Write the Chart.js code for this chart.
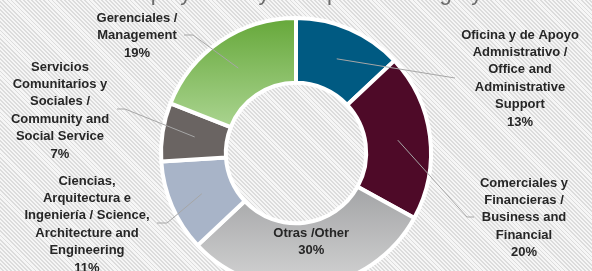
<!DOCTYPE html>
<html>
<head>
<meta charset="utf-8">
<script src="https://cdn.jsdelivr.net/npm/chart.js@4.4.1/dist/chart.umd.min.js"></script>
<style>
  html, body {
    margin: 0; padding: 0; width: 592px; height: 271px; overflow: hidden;
    background: repeating-linear-gradient(45deg, #f6f6f6 0px, #f6f6f6 1.6px, #dcdcdc 1.6px, #dcdcdc 2.9px);
  }
  #wrap { position: relative; width: 592px; height: 306px; }
</style>
</head>
<body>
<div id="wrap"><canvas id="myChart"></canvas></div>
<script>
  'use strict';

  // data
  const categoryLines = [
    ['Oficina y de Apoyo', 'Admnistrativo /', 'Office and', 'Administrative', 'Support'],
    ['Comerciales y', 'Financieras /', 'Business and', 'Financial'],
    ['Otras /Other'],
    ['Ciencias,', 'Arquitectura e', 'Ingeniería / Science,', 'Architecture and', 'Engineering'],
    ['Servicios', 'Comunitarios y', 'Sociales /', 'Community and', 'Social Service'],
    ['Gerenciales /', 'Management']
  ];
  const shares = [13, 20, 30, 11, 7, 19];
  const chartTitle = 'Employment by Occupation Category';

  // colours (gradient slices get a top/bottom pair)
  const sliceColors = ['#005a82', '#4e0a28', '#b4b5b7', '#a8b4c8', '#6a6462', '#86bd62'];
  const sliceGradients = [null, null, ['#a3a4a6', '#d4d4d4'], null, null, ['#66a83a', '#aad490']];

  // where the text blocks sit (x = centre, y = first line centre), leader elbow + end
  const labelLayout = [
    { x: 520, y: 35, lh: 17.4, elbow: [455, 78], end: [455, 78] },
    { x: 524, y: 183, lh: 17.4, elbow: [467, 217], end: [474, 217] },
    { inside: 0.3, dx: 4, lh: 16.5 },
    { x: 87, y: 181, lh: 17.4, elbow: [167, 223], end: [157, 223] },
    { x: 60, y: 67, lh: 17.4, elbow: [125, 109], end: [117, 109] },
    { x: 137, y: 18, lh: 17.5, elbow: [193, 35], end: [184, 35] }
  ];

  function arcBounds(p) {
    let top = Infinity, bottom = -Infinity;
    for (let k = 0; k <= 40; k++) {
      const a = p.startAngle + (p.endAngle - p.startAngle) * k / 40;
      [p.innerRadius, p.outerRadius].forEach(r => {
        const y = p.y + Math.sin(a) * r;
        top = Math.min(top, y); bottom = Math.max(bottom, y);
      });
    }
    return [top, bottom];
  }

  // vertical gradients for the green and grey slices
  const gradientPlugin = {
    id: 'sliceGradients',
    beforeDatasetsDraw(chart) {
      const ctx = chart.ctx;
      chart.getDatasetMeta(0).data.forEach((arc, i) => {
        const stops = sliceGradients[i];
        if (!stops) return;
        const p = arc.getProps(['x', 'y', 'startAngle', 'endAngle', 'innerRadius', 'outerRadius'], true);
        const b = arcBounds(p);
        const g = ctx.createLinearGradient(0, b[0], 0, b[1]);
        g.addColorStop(0, stops[0]);
        g.addColorStop(1, stops[1]);
        arc.options = Object.assign({}, arc.options, { backgroundColor: g });
      });
    }
  };

  // labels with leader lines + the clipped title
  const labelPlugin = {
    id: 'sliceLabels',
    afterDatasetsDraw(chart) {
      const ctx = chart.ctx;
      const arcs = chart.getDatasetMeta(0).data;
      ctx.save();

      // title sits mostly above the visible area, only its bottom shows
      ctx.font = '22px "Liberation Sans", Arial, sans-serif';
      ctx.fillStyle = '#6b6b6b';
      ctx.textAlign = 'center';
      ctx.textBaseline = 'alphabetic';
      ctx.fillText(chartTitle, chart.width / 2 + 4, -0.5);

      ctx.font = 'bold 13px "Liberation Sans", Arial, sans-serif';
      ctx.textBaseline = 'middle';
      arcs.forEach((arc, i) => {
        const p = arc.getProps(['x', 'y', 'startAngle', 'endAngle', 'innerRadius', 'outerRadius'], true);
        const mid = (p.startAngle + p.endAngle) / 2;
        const lay = labelLayout[i];
        const lines = categoryLines[i].concat([shares[i] + '%']);
        let bx, top;
        if (lay.inside !== undefined) {
          const r = p.innerRadius + (p.outerRadius - p.innerRadius) * lay.inside;
          bx = p.x + Math.cos(mid) * r + lay.dx;
          const cy = p.y + Math.sin(mid) * r;
          top = cy - (lines.length - 1) * lay.lh / 2;
        } else {
          const r = (p.innerRadius + p.outerRadius) / 2;
          ctx.strokeStyle = '#a6a6a6';
          ctx.lineWidth = 1;
          ctx.beginPath();
          ctx.moveTo(p.x + Math.cos(mid) * r, p.y + Math.sin(mid) * r);
          ctx.lineTo(lay.elbow[0], lay.elbow[1]);
          ctx.lineTo(lay.end[0], lay.end[1]);
          ctx.stroke();
          bx = lay.x;
          top = lay.y;
        }
        ctx.fillStyle = '#262626';
        lines.forEach((t, k) => ctx.fillText(t, bx, top + k * lay.lh));
      });
      ctx.restore();
    }
  };

  const ctx = document.getElementById('myChart').getContext('2d');
  const myChart = new Chart(ctx, {
    type: 'doughnut',
    data: {
      labels: categoryLines.map(l => l.join(' ')),
      datasets: [{
        data: shares,
        backgroundColor: sliceColors,
        borderColor: '#ffffff',
        borderWidth: 4
      }]
    },
    options: {
      responsive: true,
      maintainAspectRatio: false,
      animation: false,
      radius: 135,
      cutout: '52%',
      layout: { padding: 0 },
      plugins: {
        legend: { display: false },
        tooltip: { enabled: false },
        title: { display: false }
      }
    },
    plugins: [gradientPlugin, labelPlugin]
  });
</script>
</body>
</html>
